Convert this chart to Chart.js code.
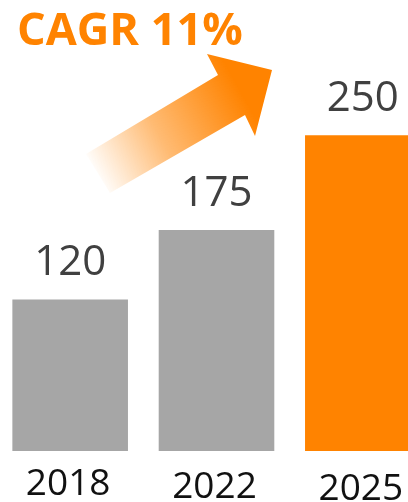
<!DOCTYPE html>
<html>
<head>
<meta charset="utf-8">
<script src="https://cdn.jsdelivr.net/npm/chart.js@4/dist/chart.umd.min.js"></script>
<style>
  html, body { margin: 0; padding: 0; background: #fff; overflow: hidden; }
  #wrap { position: absolute; left: -3px; top: 0; width: 439px; height: 502px; }
</style>
</head>
<body>
<div id="wrap"><canvas id="chart"></canvas></div>
<script>
// данные графика
const years = ['2018', '2022', '2025'];
const values = [120, 175, 250];
const barColors = ['#A6A6A6', '#A6A6A6', '#FF8300'];
const cagrText = 'CAGR 11%';

const ORANGE = '#FF8300';
const SHIFT = 3; // canvas сдвинут влево на 3px

// подписи значений, годов, заголовок и стрелка
const extras = {
  id: 'extras',
  afterDatasetsDraw(chart) {
    const ctx = chart.ctx;
    const meta = chart.getDatasetMeta(0);
    const x = chart.scales.x;
    ctx.save();

    // значения над столбцами
    ctx.font = '42px "Open Sans"';
    ctx.fillStyle = '#404040';
    ctx.textAlign = 'center';
    ctx.textBaseline = 'alphabetic';
    meta.data.forEach((bar, i) => {
      ctx.fillText(String(values[i]), bar.x, bar.y - 24);
    });

    // годы под столбцами
    const yearShift = [0, 3, 5];
    ctx.font = '37px "Open Sans"';
    ctx.fillStyle = '#111111';
    years.forEach((y, i) => {
      ctx.fillText(y, x.getPixelForValue(i) - 2, chart.chartArea.bottom + 44 + yearShift[i]);
    });

    // заголовок
    ctx.font = 'bold 45px "Open Sans"';
    ctx.fillStyle = ORANGE;
    ctx.textAlign = 'left';
    ctx.fillText(cagrText, 17 + SHIFT, 45);

    // стрелка с градиентом
    const pts = [[86, 154], [218, 75], [207, 54], [272, 70], [255, 136], [245, 115], [110, 193]];
    const g = ctx.createLinearGradient(95 + SHIFT, 176, 242 + SHIFT, 94);
    g.addColorStop(0, 'rgba(255,131,0,0)');
    g.addColorStop(0.45, 'rgba(255,131,0,0.55)');
    g.addColorStop(1, 'rgba(255,131,0,1)');
    ctx.beginPath();
    pts.forEach((p, i) => {
      if (i === 0) ctx.moveTo(p[0] + SHIFT, p[1]);
      else ctx.lineTo(p[0] + SHIFT, p[1]);
    });
    ctx.closePath();
    ctx.fillStyle = g;
    ctx.fill();

    ctx.restore();
  }
};

new Chart(document.getElementById('chart'), {
  type: 'bar',
  data: {
    labels: years,
    datasets: [{
      data: values,
      backgroundColor: barColors,
      borderWidth: 0,
      barPercentage: 0.79,
      categoryPercentage: 1
    }]
  },
  options: {
    responsive: true,
    maintainAspectRatio: false,
    animation: false,
    layout: { padding: { top: 72, bottom: 51, left: 0, right: 0 } },
    plugins: {
      legend: { display: false },
      tooltip: { enabled: false }
    },
    scales: {
      x: { display: false },
      y: { display: false, min: 0, max: 300 }
    }
  },
  plugins: [extras]
});
</script>
</body>
</html>
